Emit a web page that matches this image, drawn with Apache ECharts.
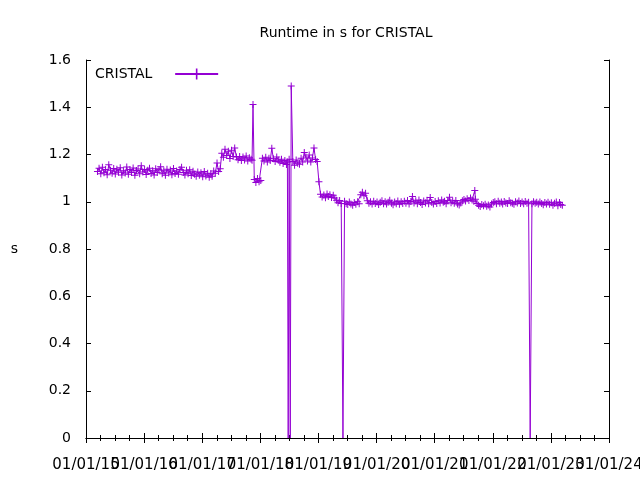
<!DOCTYPE html>
<html><head><meta charset="utf-8">
<script src="https://cdn.jsdelivr.net/npm/echarts@6/dist/echarts.min.js"></script>
<style>html,body{margin:0;padding:0;background:#fff}#c{width:640px;height:480px}</style>
</head><body><div id="c"></div>
<script>
var seriesName = 'CRISTAL';
var chartTitle = 'Runtime in s for CRISTAL';
var yTitle = 's';
var dates = [
'2015-03-14','2015-03-24','2015-04-04','2015-04-14','2015-04-24','2015-05-04','2015-05-14','2015-05-24','2015-06-04','2015-06-14','2015-06-24','2015-07-04','2015-07-14','2015-07-24','2015-08-04','2015-08-14','2015-08-24','2015-09-04','2015-09-14','2015-09-24','2015-10-04','2015-10-14','2015-10-24','2015-11-04','2015-11-14','2015-11-24','2015-12-04','2015-12-14','2015-12-24',
'2016-01-04','2016-01-14','2016-01-24','2016-02-04','2016-02-14','2016-02-24','2016-03-04','2016-03-14','2016-03-24','2016-04-04','2016-04-14','2016-04-24','2016-05-04','2016-05-14','2016-05-24','2016-06-04','2016-06-14','2016-06-24','2016-07-04','2016-07-14','2016-07-24','2016-08-04','2016-08-14','2016-08-24','2016-09-04','2016-09-14','2016-09-24','2016-10-04','2016-10-14','2016-10-24','2016-11-04','2016-11-14','2016-11-24','2016-12-04','2016-12-14','2016-12-24',
'2017-01-04','2017-01-14','2017-01-24','2017-02-04','2017-02-14','2017-02-24','2017-03-04','2017-03-14','2017-03-24','2017-04-04','2017-04-14','2017-04-24','2017-05-04','2017-05-14','2017-05-24','2017-06-04','2017-06-14','2017-06-24','2017-07-04','2017-07-14','2017-07-24','2017-08-04','2017-08-14','2017-08-24','2017-09-04','2017-09-14','2017-09-24','2017-10-04','2017-10-14','2017-10-24','2017-11-04','2017-11-10','2017-11-16','2017-11-24','2017-12-04','2017-12-14','2017-12-24',
'2018-01-04','2018-01-14','2018-01-24','2018-02-04','2018-02-14','2018-02-24','2018-03-04','2018-03-14','2018-03-24','2018-04-04','2018-04-14','2018-04-24','2018-05-04','2018-05-14','2018-05-24','2018-06-04','2018-06-14','2018-06-20','2018-06-25','2018-07-01','2018-07-08','2018-07-14','2018-07-24','2018-08-04','2018-08-14','2018-08-24','2018-09-04','2018-09-14','2018-09-24','2018-10-04','2018-10-14','2018-10-24','2018-11-04','2018-11-14','2018-11-24','2018-12-04','2018-12-14','2018-12-24',
'2019-01-04','2019-01-14','2019-01-24','2019-02-04','2019-02-14','2019-02-24','2019-03-04','2019-03-14','2019-03-24','2019-04-04','2019-04-14','2019-04-24','2019-05-04','2019-05-14','2019-05-24','2019-06-04','2019-06-14','2019-06-24','2019-07-04','2019-07-14','2019-07-24','2019-08-04','2019-08-14','2019-08-24','2019-09-04','2019-09-14','2019-09-24','2019-10-04','2019-10-14','2019-10-24','2019-11-04','2019-11-14','2019-11-24','2019-12-04','2019-12-14','2019-12-24',
'2020-01-04','2020-01-14','2020-01-24','2020-02-04','2020-02-14','2020-02-24','2020-03-04','2020-03-14','2020-03-24','2020-04-04','2020-04-14','2020-04-24','2020-05-04','2020-05-14','2020-05-24','2020-06-04','2020-06-14','2020-06-24','2020-07-04','2020-07-14','2020-07-24','2020-08-04','2020-08-14','2020-08-24','2020-09-04','2020-09-14','2020-09-24','2020-10-04','2020-10-14','2020-10-24','2020-11-04','2020-11-14','2020-11-24','2020-12-04','2020-12-14','2020-12-24',
'2021-01-04','2021-01-14','2021-01-24','2021-02-04','2021-02-14','2021-02-24','2021-03-04','2021-03-14','2021-03-24','2021-04-04','2021-04-14','2021-04-24','2021-05-04','2021-05-14','2021-05-24','2021-06-04','2021-06-14','2021-06-24','2021-07-04','2021-07-14','2021-07-24','2021-08-04','2021-08-14','2021-08-24','2021-09-04','2021-09-10','2021-09-14','2021-09-24','2021-10-04','2021-10-14','2021-10-24','2021-11-04','2021-11-14','2021-11-24','2021-12-04','2021-12-14','2021-12-24',
'2022-01-04','2022-01-14','2022-01-24','2022-02-04','2022-02-14','2022-02-24','2022-03-04','2022-03-14','2022-03-24','2022-04-04','2022-04-14','2022-04-24','2022-05-04','2022-05-14','2022-05-24','2022-06-04','2022-06-14','2022-06-24','2022-07-04','2022-07-14','2022-07-24','2022-08-04','2022-08-14','2022-08-24','2022-09-04','2022-09-14','2022-09-24','2022-10-04','2022-10-14','2022-10-24','2022-11-04','2022-11-14','2022-11-24','2022-12-04','2022-12-14','2022-12-24',
'2023-01-04','2023-01-14','2023-01-24','2023-02-04','2023-02-14','2023-02-24','2023-03-04','2023-03-14'
];
var runtime = [
1.128,1.142,1.118,1.146,1.123,1.137,1.114,1.157,1.133,1.121,1.141,1.117,1.138,1.125,1.144,1.113,1.131,1.122,1.147,1.116,1.136,1.124,1.143,1.112,1.132,1.139,1.119,1.152,1.126,
1.137,1.115,1.133,1.142,1.120,1.131,1.113,1.140,1.124,1.135,1.148,1.118,1.131,1.112,1.138,1.122,1.134,1.114,1.141,1.120,1.130,1.116,1.136,1.146,1.124,1.113,1.133,1.119,1.135,1.111,1.129,1.116,1.108,1.126,1.112,1.123,
1.106,1.128,1.109,1.121,1.104,1.119,1.108,1.130,1.121,1.164,1.128,1.140,1.205,1.188,1.222,1.196,1.214,1.183,1.218,1.192,1.228,1.189,1.178,1.192,1.175,1.189,1.177,1.194,1.173,1.186,1.180,1.176,1.412,1.094,1.082,1.098,1.085,
1.090,1.184,1.172,1.188,1.168,1.184,1.175,1.226,1.182,1.170,1.189,1.176,1.167,1.180,1.162,1.175,1.158,1.168,0,1.180,0,1.490,1.170,1.155,1.177,1.163,1.159,1.184,1.168,1.208,1.189,1.173,1.198,1.168,1.185,1.228,1.179,1.170,
1.085,1.032,1.020,1.029,1.017,1.033,1.022,1.030,1.018,1.028,1.016,1.006,0.996,1.005,0.993,0,1.002,0.992,0.988,0.999,0.991,0.985,0.997,0.989,1.000,0.992,1.030,1.040,1.025,1.036,1.004,0.994,1.000,0.990,1.002,0.993,
0.999,0.988,0.998,1.004,0.992,1.000,0.991,0.998,1.006,0.994,0.987,0.999,0.992,1.003,0.989,1.000,0.993,1.002,0.994,1.005,0.991,1.001,1.022,0.995,1.004,0.992,1.007,0.997,0.988,1.003,0.995,1.006,0.992,1.018,0.997,0.991,
1.001,0.993,1.004,0.995,1.007,0.998,1.002,0.992,1.005,1.019,0.996,1.003,0.994,1.005,0.990,0.986,0.995,1.004,1.010,1.003,1.013,1.005,1.016,1.007,1.002,1.048,1.011,0.993,0.985,0.980,0.988,0.983,0.989,0.981,0.986,0.978,0.991,
0.997,1.000,0.992,1.002,0.994,0.999,0.991,1.001,0.995,0.993,1.004,0.996,0.994,0.989,1.000,0.995,1.003,0.993,0.999,0.992,1.001,0.994,0.998,0,0.992,1.000,0.994,0.998,0.990,0.999,0.993,0.987,0.997,0.991,0.998,0.989,
0.996,0.985,0.994,0.999,0.983,0.997,0.988,0.985
];
var xMin = 2015, xMax = 2024, yMin = 0, yMax = 1.6, yStep = 0.2;

function toYear(s) {
  var p = s.split('-').map(Number);
  var t = Date.UTC(p[0], p[1] - 1, p[2]);
  var a = Date.UTC(p[0], 0, 1), b = Date.UTC(p[0] + 1, 0, 1);
  return p[0] + (t - a) / (b - a);
}
function yearLabel(v) { return '01/01/' + String(Math.round(v)).slice(2); }
var color = '#9400d3';
var plus = 'path://M0,3h7v1h-7zM3,0h1v7h-1z';
var data = dates.map(function (d, i) {
  var v = runtime[i];
  if (v <= 0) return { value: [toYear(d), v], symbol: 'none' };
  return [toYear(d), v];
});
var font = 'DejaVu Sans';
var chart = echarts.init(document.getElementById('c'), null, { renderer: 'canvas' });
var xCommon = {
  type: 'value', min: xMin, max: xMax, interval: 1,
  axisLine: { show: true, lineStyle: { color: '#000', width: 1 } },
  axisTick: { show: true, inside: true, length: 5, lineStyle: { color: '#000' } },
  minorTick: { show: true, splitNumber: 4, length: 3, lineStyle: { color: '#000' } },
  splitLine: { show: false }, minorSplitLine: { show: false }
};
var yCommon = {
  type: 'value', min: yMin, max: yMax, interval: yStep,
  axisLine: { show: true, lineStyle: { color: '#000', width: 1 } },
  axisTick: { show: true, inside: true, length: 5, lineStyle: { color: '#000' } },
  splitLine: { show: false }
};
var labelBase = { margin: 20, fontFamily: font, fontSize: 15, color: '#000', hideOverlap: false };
chart.setOption({
  animation: false,
  backgroundColor: '#fff',
  textStyle: { fontFamily: font },
  title: {
    text: chartTitle, left: 341, top: 21, textAlign: 'center',
    textStyle: { fontFamily: font, fontSize: 14, fontWeight: 'normal', color: '#000' }
  },
  legend: {
    left: 95, top: 67, padding: 0, align: 'right', itemWidth: 43, itemHeight: 14,
    formatter: function (name) { return name + '\u00a0\u00a0\u00a0\u00a0'; },
    textStyle: { fontFamily: font, fontSize: 14, color: '#000' },
    data: [seriesName]
  },
  grid: { left: 86, right: 31, top: 60, bottom: 42, containLabel: false, outerBoundsMode: 'none' },
  xAxis: [
    Object.assign({}, xCommon, {
      position: 'bottom',
      axisLabel: Object.assign({}, labelBase, {
        showMinLabel: false, showMaxLabel: false,
        formatter: function (v) { return (v <= xMin || v >= xMax) ? '' : yearLabel(v); }
      })
    }),
    Object.assign({}, xCommon, { position: 'top', axisLabel: { show: false } }),
    {
      type: 'value', min: xMin, max: xMax, interval: 1, position: 'bottom',
      axisLine: { show: false }, axisTick: { show: false }, splitLine: { show: false },
      axisLabel: Object.assign({}, labelBase, {
        showMinLabel: true, showMaxLabel: true,
        formatter: function (v) { return (v <= xMin || v >= xMax) ? yearLabel(v) : ''; }
      })
    }
  ],
  yAxis: [
    Object.assign({}, yCommon, {
      position: 'left',
      name: yTitle, nameLocation: 'middle', nameGap: 68, nameRotate: 0,
      nameTextStyle: { fontFamily: font, fontSize: 14, color: '#000' },
      axisLabel: {
        margin: 15, fontFamily: font, fontSize: 14, color: '#000',
        formatter: function (v) { return String(+v.toFixed(1)); }
      }
    }),
    Object.assign({}, yCommon, { position: 'right', axisLabel: { show: false } })
  ],
  series: [{
    name: seriesName, type: 'line', xAxisIndex: 0, yAxisIndex: 0,
    data: data, symbol: plus, symbolSize: 7, showSymbol: true, showAllSymbol: true,
    itemStyle: { color: color },
    lineStyle: { color: color, width: 1 },
    emphasis: { disabled: true }
  }]
});
</script>
</body></html>
